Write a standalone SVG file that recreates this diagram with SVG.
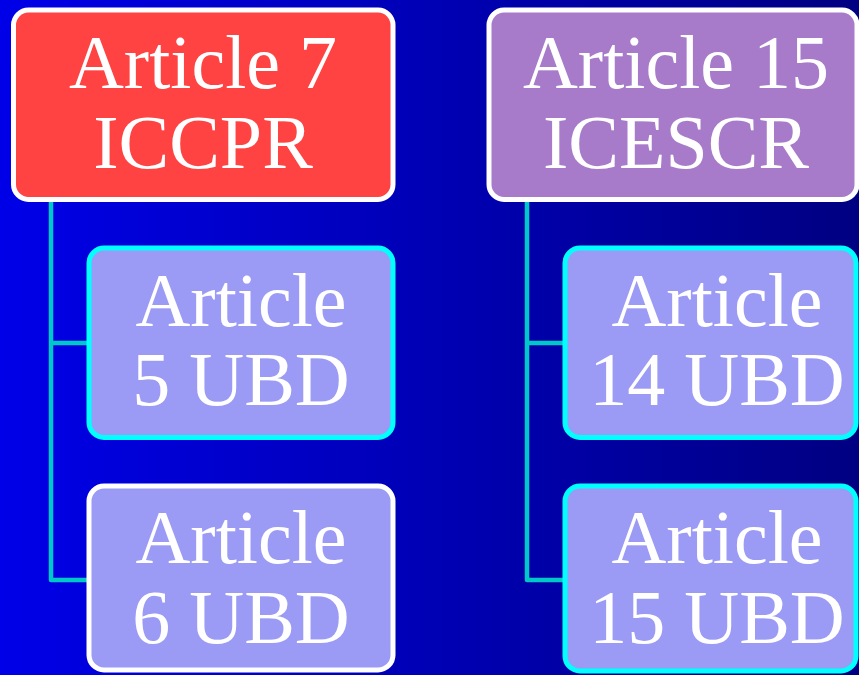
<svg xmlns="http://www.w3.org/2000/svg" width="859" height="675" viewBox="0 0 859 675">
<defs>
<linearGradient id="bg" x1="0" y1="0" x2="1" y2="0">
<stop offset="0" stop-color="#0000E8"/>
<stop offset="1" stop-color="#000082"/>
</linearGradient>
</defs>
<style>
.box{stroke-width:5}
.w{stroke:#FFFFFF}
.c{stroke:#00FFFF}
.sub{fill:#9B9BF5}
.t{font-family:"Liberation Serif","Times New Roman",serif;font-size:76px;fill:#FFFFFF;text-anchor:middle}
.ln{stroke:#00C8C8;stroke-width:4.5;fill:none;stroke-linejoin:round}
</style>
<rect x="0" y="0" width="859" height="675" fill="url(#bg)"/>
<g id="connectors">
<path class="ln" d="M51 200 V580 H89 M51 343 H89"/>
<path class="ln" d="M527 200 V580 H565 M527 343 H565"/>
</g>
<g id="n-iccpr">
<rect class="box w" x="13.5" y="10" width="379.5" height="189.5" rx="15" fill="#FF4242"/>
<text class="t" x="203" y="88">Article 7</text>
<text class="t" x="203" y="168">ICCPR</text>
</g>
<g id="n-icescr">
<rect class="box w" x="489" y="10" width="368" height="189.5" rx="15" fill="#A77BCA"/>
<text class="t" x="676" y="88">Article 15</text>
<text class="t" x="676" y="168">ICESCR</text>
</g>
<g id="n-art5">
<rect class="box c sub" x="89" y="248" width="304" height="189.5" rx="15"/>
<text class="t" x="241" y="326">Article</text>
<text class="t" x="241" y="405">5 UBD</text>
</g>
<g id="n-art6">
<rect class="box w sub" x="89" y="486" width="304" height="184" rx="15"/>
<text class="t" x="241" y="563">Article</text>
<text class="t" x="241" y="643">6 UBD</text>
</g>
<g id="n-art14">
<rect class="box c sub" x="565" y="248" width="291" height="189.5" rx="15"/>
<text class="t" x="717" y="326">Article</text>
<text class="t" x="717" y="405">14 UBD</text>
</g>
<g id="n-art15">
<rect class="box c sub" x="565" y="486" width="291" height="185" rx="15"/>
<text class="t" x="717" y="563">Article</text>
<text class="t" x="717" y="643">15 UBD</text>
</g>
</svg>
